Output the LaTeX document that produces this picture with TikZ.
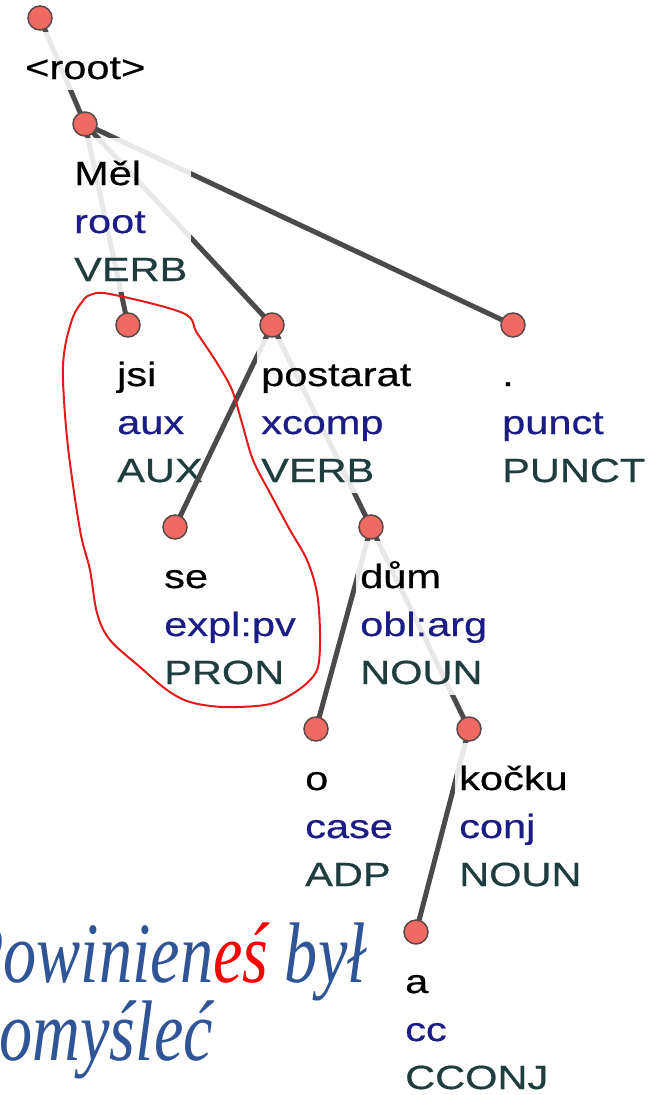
\documentclass[tikz,border=0pt]{standalone}
\usepackage{fontspec}
\newfontfamily\treefont[FakeStretch=1.24, FakeBold=0.5]{Liberation Sans}
\newfontfamily\notefont[FakeStretch=0.77]{Liberation Serif}
\pgfdeclarelayer{front}
\pgfsetlayers{main,front}

\definecolor{edgegray}{HTML}{4A4A4A}
\definecolor{dotfill}{HTML}{EE6A62}
\definecolor{dotrim}{HTML}{5A4848}
\definecolor{relblue}{HTML}{1C1C86}
\definecolor{posteal}{HTML}{1F3D3D}
\definecolor{noteblue}{HTML}{2F5597}
\definecolor{lassored}{HTML}{E31A1A}

% token label: form / relation / part of speech, rows 48pt apart
\newcommand{\tok}[3]{\begin{tabular}[t]{@{}l@{}}\rule{0pt}{47pt}#1\\[12pt]\color{relblue}#2\\[12pt]\color{posteal}#3\end{tabular}}
\newcommand{\toproot}[1]{\begin{tabular}[t]{@{}l@{}}\rule{0pt}{47pt}#1\end{tabular}}

\tikzset{
  dot/.style={circle, minimum size=24pt, inner sep=0pt, fill=dotfill, draw=dotrim, line width=1.5pt},
  edge/.style={draw=edgegray, line width=5pt},
  lab/.style={anchor=base west, inner xsep=4pt, inner ysep=0pt, fill=white,
    fill opacity=0.88, text opacity=1, text=black,
    font=\treefont\fontsize{33.5}{36}\selectfont},
  note/.style={inner sep=0pt, text=noteblue, font=\notefont\itshape\fontsize{86}{88}\selectfont},
  lasso/.style={draw=lassored, line width=2pt}
}

\begin{document}
\begin{tikzpicture}[x=1pt, y=-1pt]
\useasboundingbox (0,0) rectangle (667,1095);
\clip (0,0) rectangle (667,1095);
\fill[white] (0,0) rectangle (667,1095);

% tree vertices
\begin{pgfonlayer}{front}
\node[dot] (n0) at (40,18) {};
\node[dot] (n1) at (85,124) {};
\node[dot] (n2) at (128,325) {};
\node[dot] (n3) at (272,325) {};
\node[dot] (n4) at (513,325) {};
\node[dot] (n5) at (175,527) {};
\node[dot] (n6) at (371,527) {};
\node[dot] (n7) at (316,729) {};
\node[dot] (n8) at (469,729) {};
\node[dot] (n9) at (416,932) {};
\end{pgfonlayer}

% edges and labels, each parent's label drawn after its outgoing edges
\draw[edge] (n0.center) -- (n1.center);
\node[lab] (l0) at (21,79) {\toproot{<root>}};

\draw[edge] (n1.center) -- (n2.center);
\draw[edge] (n1.center) -- (n3.center);
\draw[edge] (n1.center) -- (n4.center);
\node[lab] (l1) at (70,185) {\tok{Měl}{root}{VERB}};

\node[lab] (l2) at (113,386) {\tok{jsi}{aux}{AUX}};

\draw[edge] (n3.center) -- (n5.center);
\draw[edge] (n3.center) -- (n6.center);
\node[lab] (l3) at (257,386) {\tok{postarat}{xcomp}{VERB}};

\node[lab] (l4) at (498,386) {\tok{.}{punct}{PUNCT}};

\node[lab] (l5) at (160,588) {\tok{se}{expl:pv}{PRON}};

\draw[edge] (n6.center) -- (n7.center);
\draw[edge] (n6.center) -- (n8.center);
\node[lab] (l6) at (356,588) {\tok{dům}{obl:arg}{NOUN}};

\node[lab] (l7) at (301,790) {\tok{o}{case}{ADP}};

\draw[edge] (n8.center) -- (n9.center);
\node[lab] (l8) at (455,790) {\tok{kočku}{conj}{NOUN}};

\node[lab] (l9) at (401,993) {\tok{a}{cc}{CCONJ}};

% freehand loop around jsi and se
\draw[lasso] plot[smooth cycle, tension=0.55] coordinates {
  (90,295) (110,294) (183,313) (197,333) (217,363) (232,390) (242,423)
  (253,460) (270,493) (290,530) (307,560) (317,593) (320,633) (318,667)
  (307,683) (287,697) (265,705) (223,707) (190,702) (167,690) (140,667)
  (110,640) (97,613) (90,570) (80,530) (68,447) (63,380) (65,347)
  (73,317) (82,302)};

% Polish gloss
\node[note, anchor=base east] (g1) at (366,982) {Powinien{\color{red}eś} był};
\node[note, anchor=base east] (g2) at (213,1060) {pomyśleć};
\end{tikzpicture}
\end{document}
